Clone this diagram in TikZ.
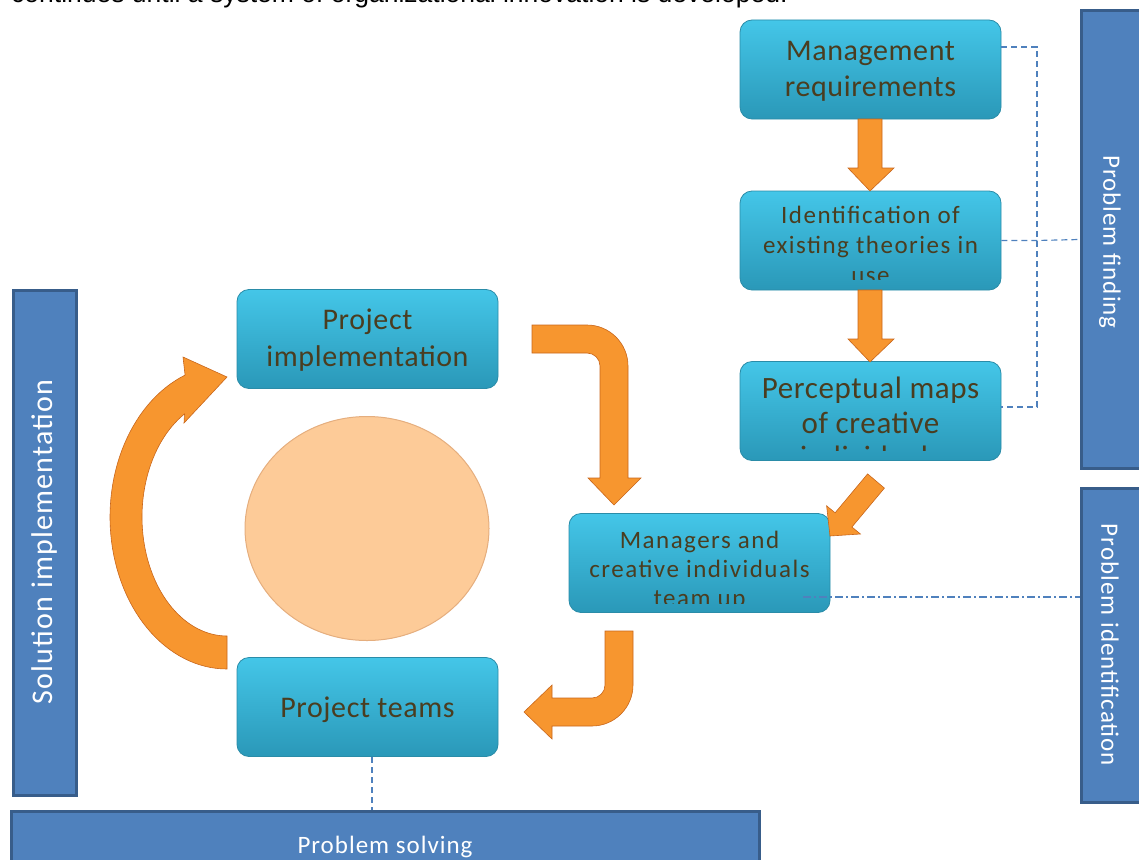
\documentclass[tikz,border=0pt]{standalone}
\usepackage{fontspec}
\usetikzlibrary{shapes.geometric}
\setmainfont{Carlito}
\newfontfamily\arialf{Liberation Sans}
\newfontfamily\wideS[LetterSpace=6]{Carlito}
\newfontfamily\wideM[LetterSpace=4]{Carlito}
\newfontfamily\wideL[LetterSpace=2]{Carlito}
\definecolor{cyanT}{HTML}{44C6E8}
\definecolor{cyanB}{HTML}{2A98B8}
\definecolor{cyanD}{HTML}{2A8CA8}
\definecolor{txtc}{HTML}{4A3D20}
\definecolor{panel}{HTML}{4F81BD}
\definecolor{panelD}{HTML}{385D8A}
\definecolor{orangeF}{HTML}{F7962F}
\definecolor{orangeD}{HTML}{C8661B}
\definecolor{peach}{HTML}{FDCB98}
\definecolor{peachD}{HTML}{E5AE7E}
\begin{document}
\begin{tikzpicture}[x=1pt,y=-1pt,
  cbox/.style={rounded corners=12pt, top color=cyanT, bottom color=cyanB, draw=cyanD, line width=0.8pt, minimum width=261pt, minimum height=99pt, inner sep=0pt},
  btxt/.style={text=txtc, align=center, inner sep=0pt},
  pbox/.style={fill=panel, draw=panelD, line width=3pt, inner sep=0pt},
  ptxt/.style={text=white, inner sep=0pt},
  oarrow/.style={fill=orangeF, draw=orangeD, line width=0.6pt},
  dl/.style={draw=panel, line width=1.2pt, dash pattern=on 6pt off 4pt},
  ddl/.style={draw=panel, line width=1.2pt, dash pattern=on 8pt off 3pt on 2pt off 3pt}]
\useasboundingbox (0,0) rectangle (1139,859);

% top text (cut off)
\node[anchor=base west, inner sep=0pt, font=\arialf\fontsize{26.5}{30}\selectfont] (toptext) at (11,3) {continues until a system of organizational innovation is developed.};

% side panels
\node[pbox, minimum width=69pt, minimum height=457pt] (pf) at (1115.5,239.5) {};
\node[ptxt, rotate=-90, font=\wideM\fontsize{25}{29}\selectfont] (pft) at (1110,242) {Problem finding};
\node[pbox, minimum width=69pt, minimum height=314pt] (pi) at (1115.5,645) {};
\node[ptxt, rotate=-90, font=\wideM\fontsize{25}{29}\selectfont] (pit) at (1110,645) {Problem identification};
\node[pbox, minimum width=63pt, minimum height=505pt] (si) at (44.5,542.5) {};
\node[ptxt, rotate=90, font=\wideM\fontsize{30}{34}\selectfont] (sit) at (45,542) {Solution implementation};
\node[pbox, minimum width=748pt, minimum height=69pt] (ps) at (385,845.5) {};
\node[ptxt, anchor=base, font=\wideM\fontsize{25}{29}\selectfont] (pst) at (385,853) {Problem solving};

% ellipse
\node[ellipse, fill=peach, draw=peachD, line width=1pt, minimum width=244pt, minimum height=224pt, inner sep=0pt] (circ) at (367,528.5) {};

% cyan boxes
\node[cbox] (mgmt) at (870.5,69.5) {};
\node[btxt, font=\wideL\fontsize{30}{36}\selectfont] (mgmtt) at (870.5,71) {Management\\requirements};

\node[cbox] (ident) at (870.5,240.5) {};
\begin{scope}
\clip (740,191) rectangle (1001,279);
\node[btxt, anchor=north, font=\wideS\fontsize{25}{30}\selectfont] (identt) at (870.5,206) {Identification of\\existing theories in\\use};
\end{scope}

\node[cbox] (percep) at (870.5,411) {};
\begin{scope}
\clip (740,362) rectangle (1001,450);
\node[btxt, anchor=north, font=\wideL\fontsize{31}{34.5}\selectfont] (percept) at (870.5,377) {Perceptual maps\\of creative\\individuals};
\end{scope}

\node[cbox] (pimpl) at (367.5,339) {};
\node[btxt, font=\wideL\fontsize{30}{37}\selectfont] (pimplt) at (367.5,340) {Project\\implementation};

\node[cbox] (pteams) at (367.5,707) {};
\node[btxt, font=\wideL\fontsize{30}{36}\selectfont] (pteamst) at (367.5,710) {Project teams};

\node[cbox] (mgr) at (699.5,563) {};
\begin{scope}
\clip (569,514) rectangle (830,603);
\node[btxt, anchor=north, font=\wideS\fontsize{25}{29}\selectfont] (mgrt) at (699.5,531) {Managers and\\creative individuals\\team up};
\end{scope}

% dashed connectors
\coordinate (v1) at (1037,47);
\coordinate (v2) at (1037,407);
\draw[dl] ([yshift=22.5pt]mgmt.east) -- (v1) -- (v2) -- ([yshift=4pt]percep.east);
\draw[dl] (ident.east) -- (1037,240.5) -- (pf.west);
\coordinate (dd) at (803,597);
\draw[ddl] (dd) -- (dd -| pi.west);
\coordinate (pd) at (372,757);
\draw[dl] (pd) -- (pd |- ps.north);

% straight down arrows
\filldraw[oarrow] (858,119) -- (882,119) -- (882,168) -- (894,168) -- (870,191) -- (848,168) -- (858,168) -- cycle;
\filldraw[oarrow] (858,290) -- (882,290) -- (882,339) -- (894,339) -- (870,362) -- (848,339) -- (858,339) -- cycle;

% diagonal arrow
\filldraw[oarrow] (867.6,473.9) -- (835.1,512.8) -- (826.6,505.8) -- (830,536) -- (860.4,534.0) -- (851.9,527.0) -- (884.4,488.1) -- cycle;

% bent arrow project implementation -> managers
\filldraw[oarrow] (532,325) -- (587,325) .. controls (609.6,325) and (628,343.4) .. (628,366) -- (628,478) -- (641,478) -- (614,505) -- (588,478) -- (600,478) -- (600,366) .. controls (600,358.8) and (594.2,353) .. (587,353) -- (532,353) -- cycle;

% bent arrow managers -> project teams
\filldraw[oarrow] (605,631) -- (633,631) -- (633,685) .. controls (633,707.6) and (614.6,726) .. (592,726) -- (552,726) -- (552,739) -- (524,712) -- (552,685) -- (552,698) -- (592,698) .. controls (599.2,698) and (605,692.2) .. (605,685) -- cycle;

% curved arrow on the left
\filldraw[oarrow] plot[domain=90:249,samples=60] ({227+117*cos(\x)},{517+152*sin(\x)}) -- (183,357) -- (227,377) -- (184,423) -- plot[domain=240:90,samples=60] ({227+85*cos(\x)},{517+119*sin(\x)}) -- cycle;

\end{tikzpicture}
\end{document}
